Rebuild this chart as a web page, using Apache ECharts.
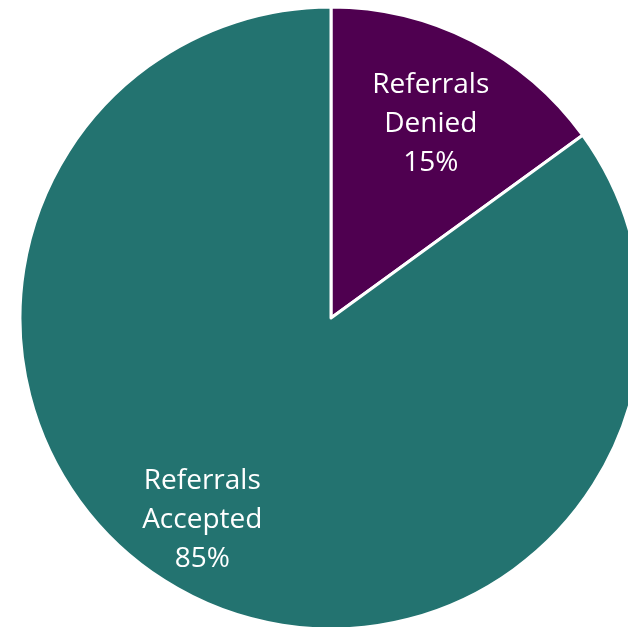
<!DOCTYPE html>
<html>
<head>
<meta charset="utf-8">
<style>html,body{margin:0;padding:0;background:#fff;}#c{width:628px;height:627px;}</style>
<script src="https://cdn.jsdelivr.net/npm/echarts@6/dist/echarts.min.js"></script>
</head>
<body>
<div id="c"></div>
<script>
const categories = ['Referrals\nDenied', 'Referrals\nAccepted'];
const values = [15, 85];
const colors = ['#4F0050', '#237370'];

const chart = echarts.init(document.getElementById('c'), null, {renderer: 'canvas'});
const baseData = categories.map((n, i) => ({name: n, value: values[i], itemStyle: {color: colors[i]}}));
const labelData = categories.map((n, i) => ({
  name: n, value: values[i],
  label: {offset: i === 1 ? [-25, -2] : [-4, 10]}
}));
chart.setOption({
  animation: false,
  series: [
    {
      type: 'pie', center: [331, 318], radius: [0, 311], startAngle: 90, clockwise: true,
      silent: true,
      itemStyle: {borderColor: '#fff', borderWidth: 3},
      label: {show: false}, labelLine: {show: false},
      data: baseData
    },
    {
      type: 'pie', center: [331, 318], radius: [140, 311], startAngle: 90, clockwise: true,
      silent: true,
      itemStyle: {color: 'rgba(0,0,0,0)', borderWidth: 0},
      label: {
        show: true, position: 'inside', color: '#fff',
        fontFamily: 'Open Sans', fontSize: 28, lineHeight: 39,
        formatter: p => p.name + '\n' + p.value + '%'
      },
      labelLine: {show: false},
      data: labelData
    }
  ]
});
</script>
</body>
</html>
